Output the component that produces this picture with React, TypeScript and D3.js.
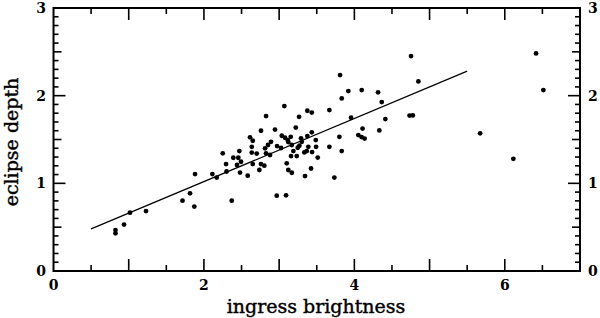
import React from "react";
import * as d3 from "d3";

const xDomain: [number, number] = [0, 7];
const yDomain: [number, number] = [0, 3];
const xTickLabels = [0, 2, 4, 6];
const yTickLabels = [0, 1, 2, 3];
const xTitle = "ingress brightness";
const yTitle = "eclipse depth";

const fitX = [0.5, 5.5];
const fitY = [0.48, 2.28];

const ingress = [
  0.824, 0.824, 0.938, 1.017, 1.23, 1.715, 1.815, 1.872, 1.882, 2.112,
  2.17, 2.25, 2.294, 2.301, 2.37, 2.391, 2.44, 2.471, 2.457, 2.493,
  2.48, 2.582, 2.613, 2.649, 2.636, 2.636, 2.702, 2.649, 2.737, 2.759,
  2.803, 2.759, 2.826, 2.813, 2.826, 2.879, 2.892, 2.945, 2.972, 2.852,
  3.025, 2.968, 3.092, 3.069, 3.035, 3.078, 3.114, 3.154, 3.122, 3.168,
  3.189, 3.158, 3.234, 3.101, 3.122, 3.168, 3.221, 3.265, 3.291, 3.301,
  3.269, 3.247, 3.335, 3.367, 3.375, 3.434, 3.487, 3.388, 3.438, 3.491,
  3.513, 3.424, 3.344, 3.375, 3.434, 3.668, 3.832, 3.92, 3.81, 3.668,
  3.734, 3.801, 3.832, 3.956, 4.053, 4.096, 4.136, 4.109, 4.098, 4.315,
  4.364, 4.332, 4.412, 4.777, 4.734, 4.754, 4.851, 5.672, 6.114, 6.416,
  6.513,
];
const depth = [
  0.467, 0.43, 0.53, 0.665, 0.684, 0.802, 0.886, 0.735, 1.106, 1.106,
  1.066, 1.342, 1.22, 1.135, 0.802, 1.292, 1.209, 1.368, 1.292, 1.246,
  1.123, 1.087, 1.525, 1.486, 1.417, 1.351, 1.34, 1.22, 1.152, 1.22,
  1.201, 1.6, 1.767, 1.399, 1.342, 1.323, 1.474, 1.613, 1.425, 1.437,
  1.403, 0.859, 0.863, 1.881, 1.543, 1.52, 1.494, 1.531, 1.471, 1.437,
  1.368, 1.311, 1.311, 1.228, 1.152, 1.121, 1.636, 1.759, 1.513, 1.474,
  1.429, 1.406, 1.353, 1.368, 1.539, 1.582, 1.494, 1.417, 1.357, 1.417,
  1.294, 1.169, 1.083, 1.828, 1.807, 1.836, 1.969, 2.052, 2.235, 1.417,
  1.066, 1.531, 1.368, 1.748, 1.551, 1.528, 1.511, 1.625, 2.064, 2.038,
  1.927, 1.604, 1.733, 1.775, 1.773, 2.452, 2.163, 1.57, 1.28, 2.482,
  2.064,
];

const W = 600;
const H = 318;
const left = 53.5;
const right = 580;
const top = 8;
const bottom = 271;

export default function App() {
  const x = d3.scaleLinear().domain(xDomain).range([left, right]);
  const y = d3.scaleLinear().domain(yDomain).range([bottom, top]);
  const font = "'DejaVu Serif', 'Liberation Serif', serif";

  const xTicks = d3.range(1, 14).map((i) => i * 0.5);
  const yTicks = d3.range(1, 30).map((i) => i / 10);

  const line = d3
    .line<number>()
    .x((_, i) => x(fitX[i]))
    .y((d) => y(d));

  return (
    <svg
      width={W}
      height={H}
      style={{ position: "absolute", left: 0, top: 0, background: "#fff" }}
    >
      <rect x={0} y={0} width={W} height={H} fill="#fff" />
      {xTicks.map((t) => {
        const major = Math.abs(t - Math.round(t)) < 1e-6;
        const len = major ? 12 : 6;
        return (
          <g key={"xt" + t}>
            <line x1={x(t)} x2={x(t)} y1={bottom} y2={bottom - len} stroke="#000" strokeWidth={1.6} />
            <line x1={x(t)} x2={x(t)} y1={top} y2={top + len} stroke="#000" strokeWidth={1.6} />
          </g>
        );
      })}
      {yTicks.map((t) => {
        const r = Math.round(t * 10);
        const len = r % 10 === 0 ? 12 : r % 5 === 0 ? 8 : 5;
        return (
          <g key={"yt" + r}>
            <line x1={left} x2={left + len} y1={y(t)} y2={y(t)} stroke="#000" strokeWidth={1.6} />
            <line x1={right} x2={right - len} y1={y(t)} y2={y(t)} stroke="#000" strokeWidth={1.6} />
          </g>
        );
      })}
      <rect
        x={left}
        y={top}
        width={right - left}
        height={bottom - top}
        fill="none"
        stroke="#000"
        strokeWidth={2}
      />
      {xTickLabels.map((t) => (
        <text key={"xl" + t} x={x(t)} y={290} textAnchor="middle" fontFamily={font} fontWeight="bold" fontSize={14}>
          {t}
        </text>
      ))}
      {yTickLabels.map((t) => (
        <g key={"yl" + t}>
          <text x={46} y={y(t) + 5} textAnchor="end" fontFamily={font} fontWeight="bold" fontSize={14}>
            {t}
          </text>
          <text x={588} y={y(t) + 5} textAnchor="start" fontFamily={font} fontWeight="bold" fontSize={14}>
            {t}
          </text>
        </g>
      ))}
      <text x={316} y={313} textAnchor="middle" fontFamily={font} fontSize={19} stroke="#000" strokeWidth={0.4}>
        {xTitle}
      </text>
      <text
        transform={`translate(18,142) rotate(-90)`}
        textAnchor="middle"
        fontFamily={font}
        fontSize={19}
        stroke="#000"
        strokeWidth={0.4}
      >
        {yTitle}
      </text>
      <path d={line(fitY) || ""} fill="none" stroke="#000" strokeWidth={1.2} />
      {ingress.map((v, i) => (
        <circle key={"p" + i} cx={x(v)} cy={y(depth[i])} r={2.4} fill="#000" />
      ))}
    </svg>
  );
}
